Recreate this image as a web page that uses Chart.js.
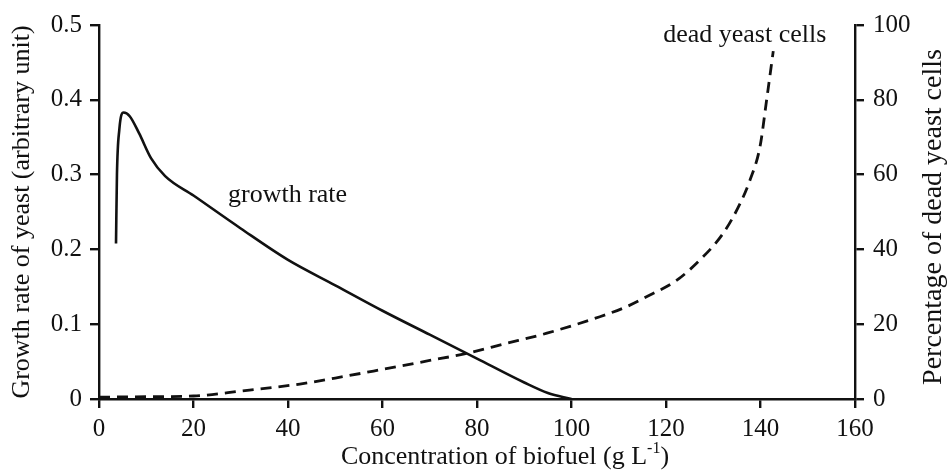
<!DOCTYPE html>
<html>
<head>
<meta charset="utf-8">
<script src="https://cdn.jsdelivr.net/npm/chart.js@4/dist/chart.umd.min.js"></script>
<style>
  html, body { margin: 0; padding: 0; background: #ffffff; }
  #wrap { width: 947px; height: 471px; }
</style>
</head>
<body>
<div id="wrap"><canvas id="c" width="947" height="471"></canvas></div>
<script>
// ---- data ----
const growthX = [3.6, 3.8, 4.3, 5.2, 6.5, 8.5, 11, 14, 20, 30, 40, 50, 60, 70, 80, 90, 95, 100];
const growthY = [0.208, 0.300, 0.360, 0.383, 0.378, 0.355, 0.322, 0.298, 0.272, 0.228, 0.186, 0.152, 0.118, 0.086, 0.054, 0.022, 0.008, 0];

const deadX = [0, 10, 20, 30, 42.5, 50, 59.5, 70, 77.1, 86, 94.8, 106, 111.7, 116.6, 122, 127.2, 132.1, 135.7, 137.8, 139.9, 141.3, 142.7];
const deadY = [0.5, 0.6, 0.8, 2.1, 4.0, 5.6, 7.8, 10.3, 12.0, 14.8, 17.6, 22, 24.7, 27.8, 31.5, 37.2, 44.3, 52.3, 58.6, 67.5, 80, 93];

const xTickValues = [0, 20, 40, 60, 80, 100, 120, 140, 160];
const xTickLabels = ['0', '20', '40', '60', '80', '100', '120', '140', '160'];
const leftTickValues = [0, 0.1, 0.2, 0.3, 0.4, 0.5];
const leftTickLabels = ['0', '0.1', '0.2', '0.3', '0.4', '0.5'];
const rightTickValues = [0, 20, 40, 60, 80, 100];
const rightTickLabels = ['0', '20', '40', '60', '80', '100'];

const seriesNames = ['growth rate', 'dead yeast cells'];
const xTitle = 'Concentration of biofuel (g L';
const xTitleSup = '-1';
const leftTitle = 'Growth rate of yeast (arbitrary unit)';
const rightTitle = 'Percentage of dead yeast cells';

// annotation anchors in data units: [x, y]
const growthLabelAt = [27.3, 0.263];
const deadLabelAt = [119.4, 95.5];

// ---- chart ----
const SERIF = '"Liberation Serif", "Times New Roman", serif';
const INK = '#111111';

const growthPts = growthX.map((x, i) => ({ x: x, y: growthY[i] }));
const deadPts = deadX.map((x, i) => ({ x: x, y: deadY[i] }));

function fixedTicks(values) {
  return function (scale) { scale.ticks = values.map(v => ({ value: v })); };
}

const annotate = {
  id: 'annotate',
  afterDraw(chart) {
    const ctx = chart.ctx;
    const xs = chart.scales.x, yl = chart.scales.yL, yr = chart.scales.yR;
    const area = chart.chartArea;
    ctx.save();
    ctx.fillStyle = INK;
    ctx.font = '26px ' + SERIF;
    ctx.textAlign = 'left';
    ctx.textBaseline = 'alphabetic';
    ctx.fillText(seriesNames[0], xs.getPixelForValue(growthLabelAt[0]), yl.getPixelForValue(growthLabelAt[1]));
    ctx.fillText(seriesNames[1], xs.getPixelForValue(deadLabelAt[0]), yr.getPixelForValue(deadLabelAt[1]));

    // x-axis title with superscript
    ctx.font = '26px ' + SERIF;
    const w1 = ctx.measureText(xTitle).width;
    ctx.font = '16px ' + SERIF;
    const w2 = ctx.measureText(xTitleSup).width;
    ctx.font = '26px ' + SERIF;
    const w3 = ctx.measureText(')').width;
    const total = w1 + w2 + w3;
    const cx = (area.left + area.right) / 2 + 28;
    const base = chart.height - 7;
    const x0 = cx - total / 2;
    ctx.fillText(xTitle, x0, base);
    ctx.font = '16px ' + SERIF;
    ctx.fillText(xTitleSup, x0 + w1, base - 11);
    ctx.font = '26px ' + SERIF;
    ctx.fillText(')', x0 + w1 + w2, base);

    // right axis title, reading bottom to top
    ctx.translate(chart.width - 13, (area.top + area.bottom) / 2 + 5);
    ctx.rotate(-Math.PI / 2);
    ctx.font = '28px ' + SERIF;
    ctx.textAlign = 'center';
    ctx.textBaseline = 'middle';
    ctx.fillText(rightTitle, 0, 0);
    ctx.restore();
  }
};

new Chart(document.getElementById('c'), {
  type: 'line',
  data: {
    datasets: [
      {
        label: seriesNames[0],
        data: growthPts,
        yAxisID: 'yL',
        borderColor: INK,
        borderWidth: 2.6,
        pointRadius: 0,
        fill: false,
        cubicInterpolationMode: 'monotone',
        tension: 0.4
      },
      {
        label: seriesNames[1],
        data: deadPts,
        yAxisID: 'yR',
        borderColor: INK,
        borderWidth: 2.8,
        borderDash: [11, 7],
        pointRadius: 0,
        fill: false,
        cubicInterpolationMode: 'monotone',
        tension: 0.4
      }
    ]
  },
  options: {
    responsive: false,
    animation: false,
    devicePixelRatio: 1,
    layout: { padding: { top: 25, left: 0, right: 0, bottom: 0 } },
    plugins: { legend: { display: false }, tooltip: { enabled: false } },
    scales: {
      x: {
        type: 'linear',
        min: 0, max: 160,
        afterBuildTicks: fixedTicks(xTickValues),
        afterFit(s) { s.height = 72; },
        border: { display: true, color: INK, width: 2.4 },
        grid: { drawOnChartArea: false, drawTicks: true, tickLength: 9, color: INK, lineWidth: 2.4 },
        ticks: {
          color: INK, padding: 6, maxRotation: 0, autoSkip: false,
          font: { family: SERIF, size: 25 },
          callback: (v, i) => xTickLabels[i]
        },
        title: { display: false }
      },
      yL: {
        type: 'linear', position: 'left',
        min: 0, max: 0.5,
        afterBuildTicks: fixedTicks(leftTickValues),
        afterFit(s) { s.width = 99; },
        border: { display: true, color: INK, width: 2.4 },
        grid: { drawOnChartArea: false, drawTicks: true, tickLength: 9, color: INK, lineWidth: 2.4 },
        ticks: {
          color: INK, padding: 8, autoSkip: false,
          font: { family: SERIF, size: 25 },
          callback: (v, i) => leftTickLabels[i]
        },
        title: {
          display: true, text: leftTitle, color: INK,
          font: { family: SERIF, size: 26, lineHeight: 1 },
          padding: { top: 9, bottom: 0 }
        }
      },
      yR: {
        type: 'linear', position: 'right',
        min: 0, max: 100,
        afterBuildTicks: fixedTicks(rightTickValues),
        afterFit(s) { s.width = 92; },
        border: { display: true, color: INK, width: 2.4 },
        grid: { drawOnChartArea: false, drawTicks: true, tickLength: 9, color: INK, lineWidth: 2.4 },
        ticks: {
          color: INK, padding: 9, autoSkip: false,
          font: { family: SERIF, size: 25 },
          callback: (v, i) => rightTickLabels[i]
        },
        title: { display: false }
      }
    }
  },
  plugins: [annotate]
});
</script>
</body>
</html>
